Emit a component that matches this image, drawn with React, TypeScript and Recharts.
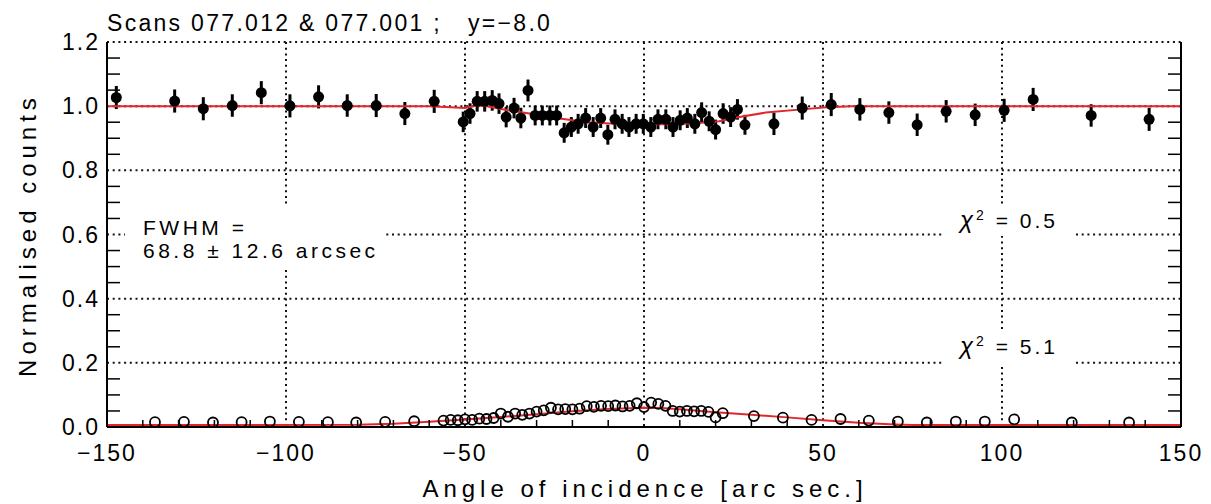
import { CartesianGrid, ComposedChart, ErrorBar, Line, Scatter, XAxis, YAxis } from 'recharts';

const FONT = '"Liberation Sans", Arial, sans-serif';
const RED = '#e3262c';

// upper scan: normalised counts with error bars
const TOP_ANGLE = [
  -147.4, -131.1, -123.1, -115.0, -106.9, -98.9, -90.9, -82.9, -74.8, -66.8, -58.6,
  -50.5, -48.6, -46.6, -44.5, -42.4, -40.5, -38.5, -36.3, -34.4, -32.4, -30.4, -28.4, -26.3, -24.4,
  -22.3, -20.3, -18.4, -16.3, -14.2, -12.1, -10.1, -8.1, -6.1, -4.2, -2.2, -0.2, 1.9, 3.9, 6.1,
  8.1, 10.1, 12.1, 14.2, 16.1, 18.2, 20.0, 22.1, 24.2, 26.1, 28.2,
  36.3, 44.2, 52.3, 60.3, 68.4, 76.3, 84.4, 92.5, 100.6, 108.7, 124.9, 141.1,
];
const TOP_COUNTS = [
  1.027, 1.016, 0.992, 1.002, 1.042, 1.001, 1.029, 1.002, 1.002, 0.977, 1.015,
  0.951, 0.977, 1.015, 1.015, 1.018, 1.008, 0.966, 0.994, 0.963, 1.049, 0.971, 0.971, 0.971, 0.971,
  0.917, 0.935, 0.945, 0.963, 0.935, 0.963, 0.911, 0.959, 0.945, 0.935, 0.945, 0.945, 0.935, 0.959, 0.959,
  0.935, 0.956, 0.963, 0.945, 0.98, 0.953, 0.927, 0.977, 0.966, 0.99, 0.942,
  0.945, 0.994, 1.005, 0.99, 0.98, 0.942, 0.984, 0.973, 0.987, 1.021, 0.971, 0.959,
];
const TOP_ERROR = [
  0.036, 0.036, 0.036, 0.035, 0.036, 0.036, 0.036, 0.035, 0.036, 0.036, 0.036,
  0.032, 0.032, 0.032, 0.032, 0.032, 0.032, 0.032, 0.032, 0.032, 0.034, 0.031, 0.031, 0.031, 0.031,
  0.031, 0.031, 0.031, 0.031, 0.031, 0.031, 0.031, 0.031, 0.031, 0.031, 0.031, 0.031, 0.031, 0.031, 0.031,
  0.031, 0.031, 0.031, 0.031, 0.032, 0.031, 0.031, 0.032, 0.031, 0.032, 0.031,
  0.035, 0.036, 0.036, 0.035, 0.035, 0.035, 0.035, 0.035, 0.036, 0.036, 0.035, 0.036,
];

// lower scan: open circles
const LOW_ANGLE = [
  -136.6, -128.5, -120.4, -112.4, -104.5, -96.4, -88.3, -80.4, -72.3, -64.2,
  -56, -54, -52, -50, -48, -46, -44, -42, -40, -38, -36, -34, -32, -30, -28, -26, -24, -22, -20, -18,
  -16, -14, -12, -10, -8, -6, -4, -2, 0, 2, 4, 6, 8, 10, 12, 14, 16, 18, 20, 22,
  30.7, 38.8, 46.8, 54.9, 62.8, 70.9, 79.0, 87.1, 95.2, 103.4, 119.5, 135.5,
];
const LOW_COUNTS = [
  0.015, 0.016, 0.014, 0.015, 0.017, 0.016, 0.015, 0.014, 0.016, 0.018,
  0.02, 0.022, 0.021, 0.024, 0.022, 0.026, 0.025, 0.028, 0.042, 0.032, 0.042, 0.038, 0.042, 0.048, 0.052,
  0.06, 0.055, 0.056, 0.055, 0.057, 0.065, 0.063, 0.066, 0.065, 0.067, 0.064, 0.066, 0.074, 0.062, 0.076,
  0.072, 0.066, 0.05, 0.048, 0.05, 0.049, 0.05, 0.047, 0.03, 0.043,
  0.034, 0.029, 0.022, 0.025, 0.02, 0.017, 0.014, 0.017, 0.017, 0.024, 0.014, 0.014,
];

// fitted curves
const FIT_TOP_ANGLE = [-150, -60, -54, -50, -47, -44, -38, -32, -24, -16, -8, 0, 8, 16, 21, 25, 34, 44, 51, 58, 150];
const FIT_TOP = [1.0, 1.0, 0.997, 0.994, 1.002, 1.0, 0.987, 0.977, 0.962, 0.95, 0.945, 0.944, 0.944, 0.948, 0.953, 0.963, 0.98, 0.99, 0.997, 1.0, 1.0];
const FIT_LOW_ANGLE = [-150, -80, -70, -60, -50, -40, -30, -20, -10, 0, 5, 10, 20, 30, 40, 50, 60, 70, 75, 150];
const FIT_LOW = [0.006, 0.007, 0.01, 0.016, 0.023, 0.031, 0.04, 0.049, 0.056, 0.06, 0.059, 0.055, 0.046, 0.038, 0.03, 0.021, 0.013, 0.008, 0.006, 0.006];

const X_MAJOR = [-150, -100, -50, 0, 50, 100, 150];
const X_MINOR = [-140, -130, -120, -110, -90, -80, -70, -60, -40, -30, -20, -10, 10, 20, 30, 40, 60, 70, 80, 90, 110, 120, 130, 140];
const Y_MAJOR = [0, 0.2, 0.4, 0.6, 0.8, 1.0, 1.2];
const Y_MINOR = [0.05, 0.1, 0.15, 0.25, 0.3, 0.35, 0.45, 0.5, 0.55, 0.65, 0.7, 0.75, 0.85, 0.9, 0.95, 1.05, 1.1, 1.15];

const topData = TOP_ANGLE.map((x, i) => ({ x, y: TOP_COUNTS[i], err: TOP_ERROR[i] }));
const lowData = LOW_ANGLE.map((x, i) => ({ x, y: LOW_COUNTS[i] }));
const fitTop = FIT_TOP_ANGLE.map((x, i) => ({ x, y: FIT_TOP[i] }));
const fitLow = FIT_LOW_ANGLE.map((x, i) => ({ x, y: FIT_LOW[i] }));

const xTicks = [...X_MAJOR, ...X_MINOR].sort((a, b) => a - b);
const yTicks = [...Y_MAJOR, ...Y_MINOR].sort((a, b) => a - b);

const labelFont = { fill: '#000', fontSize: 23, fontFamily: FONT, letterSpacing: 2 };
const fmtX = (v: number) => (v < 0 ? '\u2212' + Math.abs(v) : String(v));
const noLabel = () => <g />;
const solid = { stroke: '#000', strokeWidth: 2 };
const minorTick = { stroke: '#000', strokeWidth: 1.5 };

// labelled axes: majors get text, minors get a short inward tick (gap = tickSize + tickMargin)
const X_GAP = 18;
const Y_GAP = 7;
const XTick = (p: any) => {
  const v = p.payload.value;
  if (X_MAJOR.includes(v)) {
    return <text x={p.x} y={p.y} dy="0.71em" textAnchor="middle" {...labelFont}>{fmtX(v)}</text>;
  }
  return <line x1={p.x} x2={p.x} y1={p.y - X_GAP} y2={p.y - X_GAP - 7} {...minorTick} />;
};
const YTick = (p: any) => {
  const v = p.payload.value;
  if (Y_MAJOR.some((m) => Math.abs(m - v) < 1e-9)) {
    return <text x={p.x} y={p.y} dy="0.355em" textAnchor="end" {...labelFont}>{v.toFixed(1)}</text>;
  }
  return <line x1={p.x + Y_GAP} x2={p.x + Y_GAP + 13} y1={p.y} y2={p.y} {...minorTick} />;
};

const txt = (left: number, top: number, size: number, extra = {}) => ({
  position: 'absolute' as const, left, top, fontSize: size, lineHeight: 1, whiteSpace: 'pre' as const,
  letterSpacing: 2, color: '#000', ...extra,
});

const Chi = ({ value }: { value: string }) => (
  <>
    <i style={{ fontSize: 24 }}>χ</i>
    <sup style={{ fontSize: 14 }}>2</sup>
    {' = ' + value}
  </>
);

export default function App() {
  return (
    <div style={{ position: 'absolute', left: 0, top: 0, width: 1211, height: 504, background: '#fff', fontFamily: FONT }}>
      <ComposedChart width={1211} height={504} margin={{ top: 42, right: 30, bottom: 0, left: 0 }}>
        <CartesianGrid ticks={undefined} horizontalValues={Y_MAJOR} verticalValues={X_MAJOR}
          stroke="#111" strokeWidth={2} strokeDasharray="2 3.7" />
        <XAxis type="number" dataKey="x" domain={[-150, 150]} allowDataOverflow ticks={xTicks} interval={0}
          height={77} tickLine={false} tickSize={9} tickMargin={9} tick={<XTick />} axisLine={solid} />
        <XAxis xAxisId="top" orientation="top" type="number" domain={[-150, 150]} allowDataOverflow ticks={X_MINOR}
          interval={0} tick={noLabel} tickSize={6} mirror height={1} axisLine={false} tickLine={minorTick} />
        <YAxis type="number" dataKey="y" domain={[0, 1.2]} allowDataOverflow ticks={yTicks} interval={0}
          width={107} tickLine={false} tickSize={0} tickMargin={Y_GAP} tick={<YTick />} axisLine={solid} />
        <YAxis yAxisId="r" orientation="right" type="number" domain={[0, 1.2]} allowDataOverflow ticks={Y_MINOR}
          interval={0} tick={noLabel} tickSize={13} mirror width={1} axisLine={solid} tickLine={minorTick} />

        <Scatter data={topData} isAnimationActive={false}
          shape={(p: any) => <circle cx={p.cx} cy={p.cy} r={5.5} fill="#000" />}>
          <ErrorBar dataKey="err" direction="y" width={0} stroke="#000" strokeWidth={3} />
        </Scatter>
        <Scatter data={lowData} isAnimationActive={false}
          shape={(p: any) => <circle cx={p.cx} cy={p.cy} r={5} fill="none" stroke="#000" strokeWidth={1.8} />} />
        <Line data={fitTop} dataKey="y" type="linear" dot={false} stroke={RED} strokeWidth={2} isAnimationActive={false} />
        <Line data={fitLow} dataKey="y" type="linear" dot={false} stroke={RED} strokeWidth={2} isAnimationActive={false} />
      </ComposedChart>

      <div style={txt(107, 12, 23, { letterSpacing: 2.3 })}>{'Scans 077.012 & 077.001 ;   y=\u22128.0'}</div>
      <div style={txt(245, 477, 24, { width: 800, textAlign: 'center', letterSpacing: 5 })}>Angle of incidence [arc sec.]</div>
      <div style={txt(-172, 223, 24, { width: 400, textAlign: 'center', letterSpacing: 5, transform: 'rotate(-90deg)' })}>Normalised counts</div>

      <div style={{ position: 'absolute', left: 125, top: 207, width: 260, height: 60, background: '#fff' }} />
      <div style={txt(143, 217, 21, { letterSpacing: 3.5 })}>FWHM =</div>
      <div style={txt(143, 240, 21, { letterSpacing: 3.5 })}>{'68.8 \u00b1 12.6 arcsec'}</div>

      <div style={{ position: 'absolute', left: 943, top: 205, width: 132, height: 31, background: '#fff' }} />
      <div style={txt(960, 208, 21, { letterSpacing: 3 })}><Chi value="0.5" /></div>
      <div style={{ position: 'absolute', left: 943, top: 330, width: 132, height: 34, background: '#fff' }} />
      <div style={txt(960, 334, 21, { letterSpacing: 3 })}><Chi value="5.1" /></div>
    </div>
  );
}
